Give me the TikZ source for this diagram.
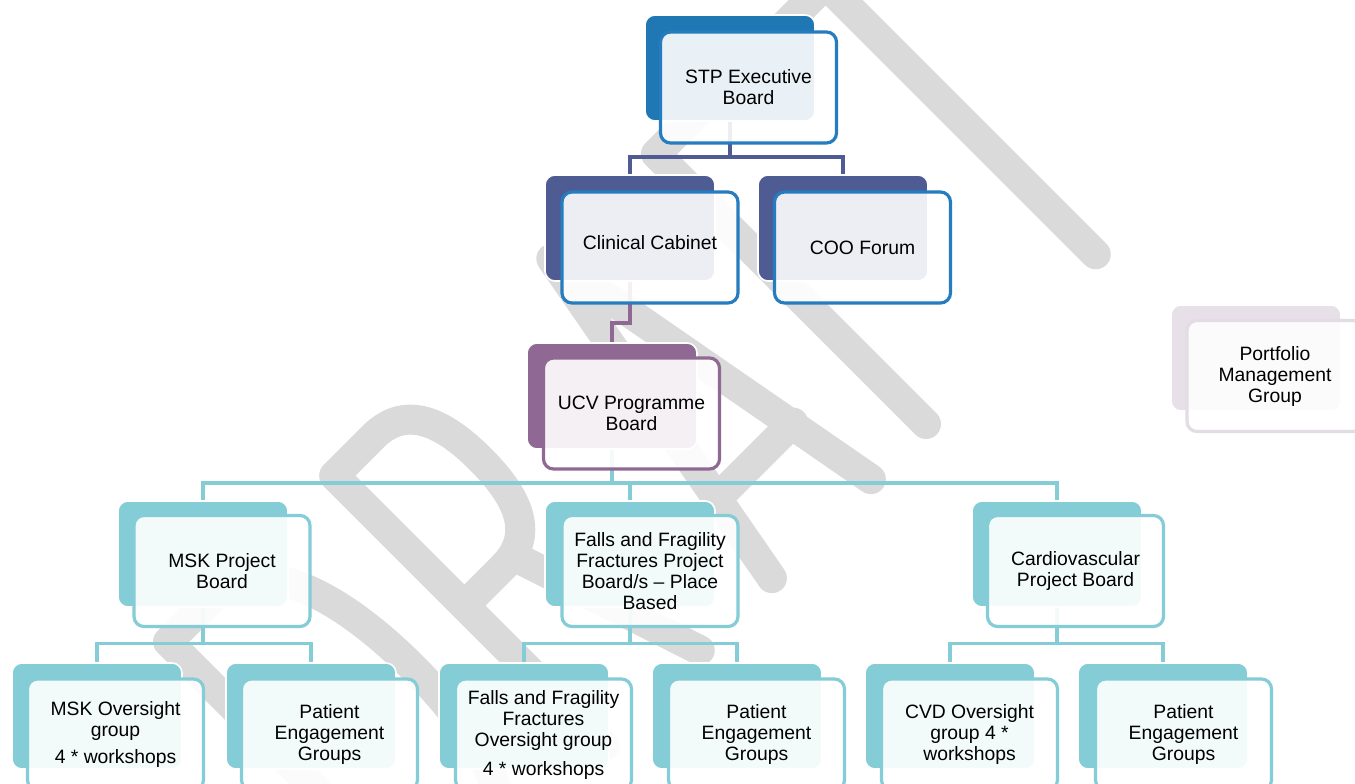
\documentclass[tikz,border=0pt]{standalone}
\usepackage{fontspec}
\setmainfont{Liberation Sans}
\definecolor{stpblue}{RGB}{31,119,180}
\definecolor{edgeblue}{RGB}{37,124,190}
\definecolor{navy}{RGB}{79,91,147}
\definecolor{plum}{RGB}{143,104,147}
\definecolor{aqua}{RGB}{132,204,214}
\definecolor{mauve}{RGB}{231,224,232}
\definecolor{mauveedge}{RGB}{228,220,229}
\definecolor{wmgrey}{RGB}{218,218,218}
\begin{document}
\begin{tikzpicture}[x=0.75pt,y=-0.75pt,
  backbox/.style={rectangle, rounded corners=7.5pt, minimum width=127.5pt,
    minimum height=79.5pt, inner sep=0pt, draw=white, line width=1.2pt},
  frontbox/.style={rectangle, rounded corners=7.5pt, minimum width=132pt,
    minimum height=83.25pt, inner sep=0pt, fill=white, fill opacity=0.9,
    text opacity=1, line width=2.4pt, align=center, text=black,
    font=\fontsize{14.5}{15.75}\selectfont},
  link/.style={line width=2.6pt},
]
\useasboundingbox (0,0) rectangle (1355,784);
\clip (0,0) rectangle (1355,784);
\fill[white] (0,0) rectangle (1355,784);

% DRAFT watermark, stroked letters on a 45 degree baseline
\coordinate (wmo) at (675,675);
\begin{scope}[shift={(wmo)}, x={(0.5303pt,0.5303pt)}, y={(-0.5303pt,0.5303pt)},
  color=wmgrey, line width=22.5pt, line cap=round, line join=round]
  % D
  \draw (-335,0) -- (-335,382) -- (-270,382) .. controls (-215,382) and (-180,310) .. (-180,191)
        .. controls (-180,72) and (-215,0) .. (-270,0) -- cycle;
  % R
  \draw (-100,0) -- (-100,382) -- (-45,382) .. controls (0,382) and (15,345) .. (15,290)
        .. controls (15,235) and (0,198) .. (-45,198) -- (-100,198);
  \draw (-30,198) -- (35,0);
  % A
  \draw (137,0) -- (207,382) -- (277,0);
  \draw (152,95) -- (262,95);
  % F
  \draw (355,0) -- (355,382) -- (485,382);
  \draw (355,205) -- (465,205);
  % T
  \draw (475,382) -- (715,382);
  \draw (595,382) -- (595,0);
\end{scope}

% back plates
\node[backbox, fill=stpblue] (stp-b) at (730,68) {};
\node[backbox, fill=navy] (clin-b) at (630,228) {};
\node[backbox, fill=navy] (coo-b) at (843,228) {};
\node[backbox, fill=plum] (ucv-b) at (612,396) {};
\node[backbox, fill=aqua] (msk-b) at (203,554) {};
\node[backbox, fill=aqua] (fall-b) at (630,554) {};
\node[backbox, fill=aqua] (card-b) at (1057,554) {};
\node[backbox, fill=aqua] (msko-b) at (97,716) {};
\node[backbox, fill=aqua] (peg1-b) at (311,716) {};
\node[backbox, fill=aqua] (fallo-b) at (524,716) {};
\node[backbox, fill=aqua] (peg2-b) at (737,716) {};
\node[backbox, fill=aqua] (cvd-b) at (950,716) {};
\node[backbox, fill=aqua] (peg3-b) at (1163,716) {};
\node[backbox, fill=mauve] (port-b) at (1256,358) {};

% connectors
\coordinate (busA) at (0,157);
\coordinate (busB) at (0,323);
\coordinate (busC) at (0,483);
\coordinate (busD) at (0,643.5);
\draw[link, navy] (stp-b.south) -- (stp-b.south |- busA) -| (clin-b.north);
\draw[link, navy] (stp-b.south) -- (stp-b.south |- busA) -| (coo-b.north);
\draw[link, plum] (clin-b.south) -- (clin-b.south |- busB) -| (ucv-b.north);
\draw[link, aqua] (ucv-b.south) -- (ucv-b.south |- busC) -| (msk-b.north);
\draw[link, aqua] (ucv-b.south) -- (ucv-b.south |- busC) -| (fall-b.north);
\draw[link, aqua] (ucv-b.south) -- (ucv-b.south |- busC) -| (card-b.north);
\draw[link, aqua] (msk-b.south) -- (msk-b.south |- busD) -| (msko-b.north);
\draw[link, aqua] (msk-b.south) -- (msk-b.south |- busD) -| (peg1-b.north);
\draw[link, aqua] (fall-b.south) -- (fall-b.south |- busD) -| (fallo-b.north);
\draw[link, aqua] (fall-b.south) -- (fall-b.south |- busD) -| (peg2-b.north);
\draw[link, aqua] (card-b.south) -- (card-b.south |- busD) -| (cvd-b.north);
\draw[link, aqua] (card-b.south) -- (card-b.south |- busD) -| (peg3-b.north);

% front cards with their texts
\node[frontbox, draw=edgeblue] (stp) at (748.5,87.5) {STP Executive\\Board};
\node[frontbox, draw=edgeblue] (clin) at (650,247.5) {\raisebox{7.8pt}{Clinical Cabinet}};
\node[frontbox, draw=edgeblue] (coo) at (862.5,247.5) {COO Forum};
\node[frontbox, draw=plum] (ucv) at (631.5,413.5) {UCV Programme\\Board};
\node[frontbox, draw=aqua] (msk) at (222,571) {MSK Project\\Board};
\node[frontbox, draw=aqua] (fall) at (650,571) {Falls and Fragility\\Fractures Project\\Board/s -- Place\\Based};
\node[frontbox, draw=aqua] (card) at (1075.5,571) {Cardiovascular\\Project Board};
\node[frontbox, draw=aqua] (msko) at (115.5,734.5) {MSK Oversight\\group\\[4.5pt]4 * workshops};
\node[frontbox, draw=aqua] (peg1) at (329.5,734.5) {Patient\\Engagement\\Groups};
\node[frontbox, draw=aqua] (fallo) at (543.5,734.5) {Falls and Fragility\\Fractures\\Oversight group\\[6pt]4 * workshops};
\node[frontbox, draw=aqua] (peg2) at (756.5,734.5) {Patient\\Engagement\\Groups};
\node[frontbox, draw=aqua] (cvd) at (969.5,734.5) {CVD Oversight\\group 4 *\\workshops};
\node[frontbox, draw=aqua] (peg3) at (1183.5,734.5) {Patient\\Engagement\\Groups};
\node[frontbox, draw=mauveedge] (port) at (1275,376) {Portfolio\\Management\\Group};
\end{tikzpicture}
\end{document}
